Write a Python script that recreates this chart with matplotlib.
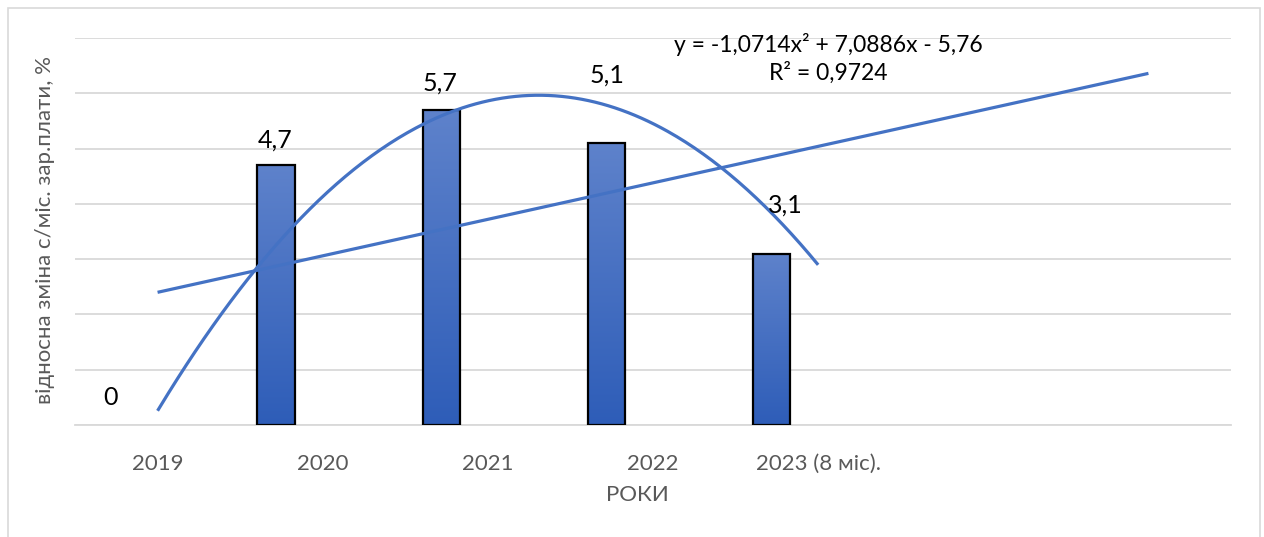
import numpy as np
import matplotlib
matplotlib.use("Agg")
import matplotlib.pyplot as plt
from matplotlib.patches import Rectangle
from matplotlib.colors import LinearSegmentedColormap

plt.rcParams['font.family'] = ['Lato', 'DejaVu Sans']

# ---- data ----
categories = ["2019", "2020", "2021", "2022", "2023 (8 міс)."]
extra_categories = ["", ""]          # empty forecast periods
values = [0, 4.7, 5.7, 5.1, 3.1]
value_labels = ["0", "4,7", "5,7", "5,1", "3,1"]
equation_text = "y = -1,0714x² + 7,0886x - 5,76"
r2_text = "R² = 0,9724"
ylabel = "відносна зміна с/міс. зар.плати, %"
xlabel = "РОКИ"

# ---- layout ----
label_pos = [(-0.284, 0.49), (0.711, 5.15), (1.71, 6.18), (2.72, 6.33), (3.80, 3.98)]
bar_offset = -0.282
bar_width = 0.226
line_color = "#4472C4"
grid_color = "#D9D9D9"
text_gray = "#595959"

W, H = 1264, 537
fig = plt.figure(figsize=(W / 100, H / 100), dpi=100)
ax = fig.add_axes([75 / W, 1 - 425 / H, (1231 - 75) / W, (425 - 38) / H])

n_all = len(categories) + len(extra_categories)
x_cat = np.arange(len(categories))
x_all = np.arange(n_all)

# bars with gradient
bars = ax.bar(x_cat + bar_offset, values, width=bar_width, color="none",
              edgecolor="black", linewidth=1.6, zorder=3)
grad = np.linspace(0, 1, 256).reshape(-1, 1)
cmap = LinearSegmentedColormap.from_list("g", ["#2E5DB8", "#5E82CB"])
for b in bars:
    x0, y0 = b.get_x(), b.get_y()
    w, h = b.get_width(), b.get_height()
    if h <= 0:
        b.set_visible(False)
        continue
    im = ax.imshow(grad, extent=(x0, x0 + w, y0, y0 + h), origin="lower",
                   aspect="auto", cmap=cmap, zorder=2.5)
    im.set_clip_path(b)

# trend lines
xs_data = x_cat + 1
lin = np.polyfit(xs_data, values, 1)
poly = np.polyfit(xs_data, values, 2)
xl = np.linspace(1, n_all, 200)
ax.plot(xl - 1, np.polyval(lin, xl), color=line_color, lw=2.3, zorder=4,
        solid_capstyle="butt")
xp = np.linspace(1, len(categories), 300)
ax.plot(xp - 1, np.polyval(poly, xp), color=line_color, lw=2.3, zorder=4,
        solid_capstyle="butt")

# value labels
for (lx, ly), t in zip(label_pos, value_labels):
    ax.text(lx, ly, t, ha="center", va="center", fontsize=18, color="black", zorder=5)

ax.text(4.06, 6.89, equation_text, ha="center", va="center", fontsize=16.5, color="black")
ax.text(4.06, 6.38, r2_text, ha="center", va="center", fontsize=16.5, color="black")

ax.set_xlim(-0.5, n_all - 0.5)
ax.set_ylim(0, 7)
ax.set_yticks(np.arange(0, 8, 1))
ax.set_yticklabels([])
ax.tick_params(axis="y", length=0)
ax.grid(axis="y", color=grid_color, lw=1.3, zorder=0)
ax.set_axisbelow(True)
ax.set_xticks(x_all)
ax.set_xticklabels(categories + extra_categories, fontsize=16, color=text_gray)
ax.tick_params(axis="x", length=0, pad=21)
for s in ["top", "right", "left"]:
    ax.spines[s].set_visible(False)
ax.spines["bottom"].set_color(grid_color)
ax.spines["bottom"].set_linewidth(1.3)

fig.text(637 / W, 1 - 495 / H, xlabel, ha="center", va="center", fontsize=16, color=text_gray)
fig.text(45 / W, 1 - 230 / H, ylabel, ha="center", va="center", fontsize=16,
         color=text_gray, rotation=90)

# outer border
fig.patches.append(Rectangle((8 / W, -0.1), (1260 - 8) / W, 1 - 8 / H + 0.1,
                             transform=fig.transFigure, fill=False,
                             edgecolor=grid_color, lw=1.2))

fig.savefig("out.png", dpi=100)
